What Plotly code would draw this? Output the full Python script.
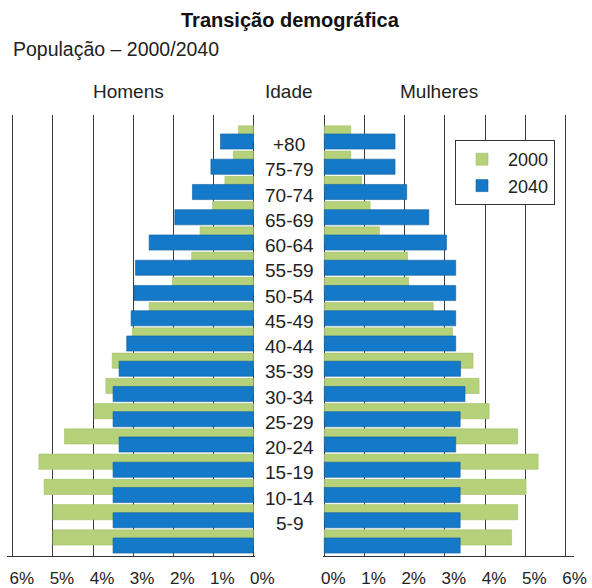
import plotly.graph_objects as go

# Age bands, youngest first (plotted bottom to top)
age_groups = ["0-4", "5-9", "10-14", "15-19", "20-24", "25-29", "30-34", "35-39",
              "40-44", "45-49", "50-54", "55-59", "60-64", "65-69", "70-74",
              "75-79", "+80"]

# Share of total population (%) by sex and year
men_2000 = [5.0, 5.0, 5.22, 5.35, 4.71, 3.97, 3.68, 3.52, 3.02, 2.6, 2.02,
            1.54, 1.33, 1.02, 0.71, 0.5, 0.37]
men_2040 = [3.5, 3.5, 3.5, 3.5, 3.35, 3.5, 3.5, 3.35, 3.16, 3.05, 2.98,
            2.94, 2.6, 1.96, 1.52, 1.06, 0.82]
women_2000 = [4.66, 4.81, 5.02, 5.32, 4.81, 4.1, 3.85, 3.7, 3.19, 2.71, 2.1,
              2.07, 1.37, 1.14, 0.93, 0.66, 0.66]
women_2040 = [3.38, 3.38, 3.38, 3.38, 3.27, 3.38, 3.5, 3.39, 3.27, 3.27, 3.27,
              3.27, 3.04, 2.6, 2.05, 1.76, 1.76]

pct_ticks = [0, 1, 2, 3, 4, 5, 6]

GREEN = "#b5d27a"
BLUE = "#1479c9"
FONT = "Liberation Sans, Arial, sans-serif"

pos = list(range(len(age_groups)))
bar_w = 0.6

fig = go.Figure()

# 2000 bars sit slightly above and behind the 2040 bars
for xs, xa, ya, show in [(men_2000, "x", "y", True), (women_2000, "x2", "y2", False)]:
    fig.add_trace(go.Bar(
        x=xs, y=pos, orientation="h", name="2000", xaxis=xa, yaxis=ya,
        width=bar_w, offset=0.02,
        marker=dict(color=GREEN, line=dict(color="#a2c06a", width=0.6)),
        showlegend=show, legendgroup="2000", hovertext=age_groups,
    ))
for xs, xa, ya, show in [(men_2040, "x", "y", True), (women_2040, "x2", "y2", False)]:
    fig.add_trace(go.Bar(
        x=xs, y=pos, orientation="h", name="2040", xaxis=xa, yaxis=ya,
        width=bar_w, offset=-0.3,
        marker=dict(color=BLUE, line=dict(color="#0d5f9e", width=0.6)),
        showlegend=show, legendgroup="2040", hovertext=age_groups,
    ))

axis_common = dict(
    tickvals=pct_ticks, ticktext=[f"{v}%" for v in pct_ticks],
    showgrid=True, gridcolor="#3c3c3c", gridwidth=1.3, zeroline=False,
    showline=True, linecolor="#333333", linewidth=1.3, ticks="",
    tickfont=dict(family=FONT, size=17, color="#222222"),
    ticklabelstandoff=6,
    fixedrange=True, automargin=False,
)
y_common = dict(range=[-0.416, 17.05], domain=[0.0544, 0.8044], visible=False,
                fixedrange=True, automargin=False)

fig.update_layout(
    width=592, height=588,
    margin=dict(l=0, r=0, t=0, b=0, pad=0, autoexpand=False),
    paper_bgcolor="white", plot_bgcolor="white",
    barmode="overlay",
    font=dict(family=FONT, color="#222222"),
    # men's axis runs right-to-left, so its labels shift the opposite way
    xaxis=dict(domain=[0.01149, 0.43074], range=[6.15, -0.04], anchor="y",
               ticklabelshift=-9, **axis_common),
    xaxis2=dict(domain=[0.54578, 0.96875], range=[-0.03, 6.2], anchor="y2",
                ticklabelshift=9, **axis_common),
    yaxis=dict(anchor="x", **y_common),
    yaxis2=dict(anchor="x2", matches="y", **y_common),
    legend=dict(
        x=455 / 592, y=1 - 140 / 588, xanchor="left", yanchor="top",
        bordercolor="#333333", borderwidth=1, bgcolor="white",
        font=dict(family=FONT, size=18, color="#222222"),
        traceorder="normal", itemclick=False, itemdoubleclick=False,
        itemwidth=42,
    ),
    showlegend=True,
)

# Title, subtitle and column headers
fig.add_annotation(text="<b>Transição demográfica</b>", xref="paper", yref="paper",
                   x=290 / 592, y=1 - 20 / 588, xanchor="center", yanchor="middle",
                   showarrow=False, font=dict(family=FONT, size=20, color="#111111"))
fig.add_annotation(text="População – 2000/2040", xref="paper", yref="paper",
                   x=11 / 592, y=1 - 49 / 588, xanchor="left", yanchor="middle",
                   showarrow=False, font=dict(family=FONT, size=19.5, color="#222222"))
for label, cx in [("Homens", 128), ("Idade", 289), ("Mulheres", 439)]:
    fig.add_annotation(text=label, xref="paper", yref="paper",
                       x=cx / 592, y=1 - 91 / 588, xanchor="center", yanchor="middle",
                       showarrow=False, font=dict(family=FONT, size=19, color="#222222"))

# Age labels in the centre column; the youngest band is left unlabelled
for i, g in enumerate(age_groups):
    if i == 0:
        continue
    fig.add_annotation(text=g, xref="paper", yref="y", x=289 / 592, y=pos[i] - 0.12,
                       xanchor="center", yanchor="middle", showarrow=False,
                       font=dict(family=FONT, size=19, color="#222222"))

fig.write_html("out.html")
